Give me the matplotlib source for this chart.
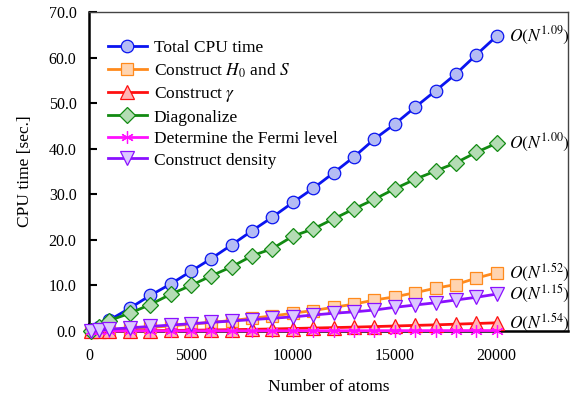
import matplotlib.pyplot as plt
import numpy as np

plt.rcParams['font.family'] = ['Liberation Serif', 'DejaVu Serif']
plt.rcParams['mathtext.fontset'] = 'stix'

# number of atoms
atoms = [100, 500, 1000, 2000, 3000, 4000, 5000, 6000, 7000, 8000, 9000, 10000,
         11000, 12000, 13000, 14000, 15000, 16000, 17000, 18000, 19000, 20000]

# timings [sec.]
total = [0.1, 0.9, 2.4, 5.0, 7.8, 10.3, 13.1, 15.9, 18.9, 22.0, 25.0, 28.2,
         31.3, 34.7, 38.2, 42.1, 45.4, 49.1, 52.7, 56.4, 60.6, 64.7]
h0_s = [0.0, 0.1, 0.2, 0.5, 0.8, 1.1, 1.5, 1.9, 2.3, 2.8, 3.3, 3.9,
        4.5, 5.2, 5.9, 6.8, 7.5, 8.4, 9.4, 10.2, 11.6, 12.8]
gamma = [0.0, 0.01, 0.02, 0.05, 0.08, 0.12, 0.17, 0.23, 0.3, 0.37, 0.45, 0.55,
         0.65, 0.75, 0.85, 0.97, 1.1, 1.23, 1.35, 1.5, 1.65, 1.8]
diag = [0.1, 0.8, 2.3, 3.9, 5.8, 8.05, 10.0, 12.1, 14.1, 16.5, 18.1, 20.8,
        22.4, 24.6, 26.8, 28.9, 31.2, 33.3, 35.1, 36.9, 39.2, 41.2]
fermi = [0.0, 0.0, 0.01, 0.01, 0.02, 0.02, 0.03, 0.03, 0.04, 0.04, 0.05, 0.05,
         0.06, 0.06, 0.07, 0.07, 0.08, 0.08, 0.09, 0.09, 0.1, 0.1]
density = [0.05, 0.2, 0.4, 0.7, 1.0, 1.3, 1.6, 1.9, 2.2, 2.5, 2.8, 3.1,
           3.5, 3.9, 4.2, 4.6, 5.2, 5.7, 6.2, 6.8, 7.4, 8.1]

labels = ['Total CPU time', 'Construct $H_0$ and $S$', r'Construct $\gamma$',
          'Diagonalize', 'Determine the Fermi level', 'Construct density']
orders = ['1.09', '1.52', '1.54', '1.00', None, '1.15']

fig = plt.figure(figsize=(5.72, 3.99), dpi=100)
ax = fig.add_axes([0.1556, 0.1704, 0.8374, 0.7996])

styles = [
    ('#0a14f0', '#b4bcf4', 'o', 9),
    ('#ff8a1c', '#ffd4b0', 's', 8.5),
    ('#ff1010', '#ffb4b4', '^', 9.5),
    ('#128a12', '#b4dcb4', 'D', 8),
    ('#ff10ff', '#ff10ff', (6, 2, 0), 9),
    ('#8a10ff', '#dcc8ff', 'v', 10),
]
series = [total, h0_s, gamma, diag, fermi, density]

for ys, (c, fc, m, ms), lab, o in zip(series, styles, labels, orders):
    ax.plot(atoms, ys, color=c, lw=2, marker=m, markersize=ms,
            markerfacecolor=fc, markeredgecolor=c, markeredgewidth=0.9,
            label=lab, clip_on=False, zorder=3)
    if o is not None:
        ax.annotate(r'$O(N^{%s})$' % o, (atoms[-1], ys[-1]),
                    xytext=(9, 0), textcoords='offset points',
                    va='center', ha='left', fontsize=12.5)

ax.set_xlim(0, 23500)
ax.set_ylim(0, 70)
ax.set_xticks([0, 5000, 10000, 15000, 20000])
ax.set_yticks(np.arange(0, 71, 10))
ax.yaxis.set_major_formatter(plt.FormatStrFormatter('%.1f'))
ax.tick_params(direction='in', length=6, width=1.5, labelsize=11.5,
               top=False, right=False)
ax.tick_params(axis='x', pad=12)
ax.tick_params(axis='y', pad=9)
for s in ['left', 'bottom']:
    ax.spines[s].set_linewidth(1.8)
for s in ['top', 'right']:
    ax.spines[s].set_linewidth(1)
    ax.spines[s].set_color('#444444')

ax.set_xlabel('Number of atoms', fontsize=12.5, labelpad=11)
ax.set_ylabel('CPU time [sec.]', fontsize=12.5, labelpad=11)

ax.legend(loc='upper left', bbox_to_anchor=(0.026, 0.935), frameon=False,
          fontsize=12.5, handlelength=2.2, labelspacing=0.31,
          handletextpad=0.4, borderaxespad=0)

fig.savefig('out.png', dpi=100)
